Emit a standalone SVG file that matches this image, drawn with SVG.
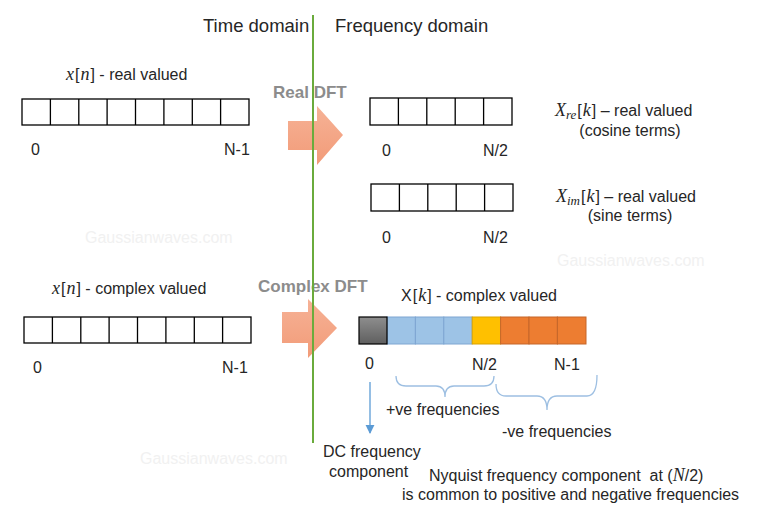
<svg xmlns="http://www.w3.org/2000/svg" width="765" height="512" viewBox="0 0 765 512">
<style>
text{font-family:"Liberation Sans",Arial,sans-serif;fill:#262626;font-size:16px}
.h{font-size:18.5px}
.m{font-family:"Liberation Serif","Times New Roman",serif;font-style:italic;font-size:18px}
.s{font-family:"Liberation Serif","Times New Roman",serif;font-style:italic;font-size:13px}
.dft{font-weight:bold;fill:#8c8c8c;font-size:17px}
.wm{fill:#f1f1f1;font-size:16px}
.cell{fill:#fff;stroke:#000;stroke-width:1.3}
.blue{fill:#9dc3e6;stroke:#7ea6d2;stroke-width:1}
.org{fill:#ed7d31;stroke:#c5672a;stroke-width:1}
.brace{fill:none;stroke:#9dbfe2;stroke-width:1.3}
</style>
<defs>
<linearGradient id="gg" x1="0" y1="0" x2="0" y2="1"><stop offset="0" stop-color="#8e8e8e"/><stop offset="1" stop-color="#5f5f5f"/></linearGradient>
<linearGradient id="ag" x1="0" y1="0" x2="0" y2="1"><stop offset="0" stop-color="#f6b296"/><stop offset="1" stop-color="#f29b78"/></linearGradient>
<marker id="ah" viewBox="0 0 10 10" refX="9" refY="5" markerWidth="7" markerHeight="7" orient="auto"><path d="M0,0 L10,5 L0,10 z" fill="#5b9bd5"/></marker>
</defs>

<g id="watermarks">
<text class="wm" x="85" y="243">Gaussianwaves.com</text>
<text class="wm" x="557" y="266">Gaussianwaves.com</text>
<text class="wm" x="140" y="464">Gaussianwaves.com</text>
</g>

<g id="headers">
<text class="h" x="203" y="32">Time domain</text>
<text class="h" x="335" y="32">Frequency domain</text>
</g>

<g id="xn-real">
<text x="66" y="80"><tspan class="m">x</tspan><tspan dx="1">[</tspan><tspan class="m" dx="1">n</tspan><tspan dx="1">]</tspan> - real valued</text>
<g transform="translate(22,99)">
<rect class="cell" x="0" y="0" width="227" height="26"/>
<path d="M28.4,0V26M56.8,0V26M85.1,0V26M113.5,0V26M141.9,0V26M170.3,0V26M198.6,0V26" stroke="#000" stroke-width="1.3"/>
</g>
<text x="31" y="155">0</text>
<text x="224" y="155">N-1</text>
</g>

<g id="real-dft">
<path fill="url(#ag)" d="M288,121H317V106L343,135L317,165V150H288Z"/>
<text class="dft" x="273" y="98">Real DFT</text>
</g>

<g id="xre">
<g transform="translate(370,98)">
<rect class="cell" x="0" y="0" width="142" height="27"/>
<path d="M28.4,0V27M56.8,0V27M85.2,0V27M113.6,0V27" stroke="#000" stroke-width="1.3"/>
</g>
<text x="382" y="156">0</text>
<text x="483" y="156">N/2</text>
<text x="555" y="116"><tspan class="m">X</tspan><tspan class="s" dy="3">re</tspan><tspan dy="-3" dx="1">[</tspan><tspan class="m" dx="1">k</tspan><tspan dx="1">]</tspan> – real valued</text>
<text x="630" y="136" text-anchor="middle">(cosine terms)</text>
</g>

<g id="xim">
<g transform="translate(371,184)">
<rect class="cell" x="0" y="0" width="142" height="27"/>
<path d="M28.4,0V27M56.8,0V27M85.2,0V27M113.6,0V27" stroke="#000" stroke-width="1.3"/>
</g>
<text x="382" y="243">0</text>
<text x="483" y="243">N/2</text>
<text x="556" y="202"><tspan class="m">X</tspan><tspan class="s" dy="3">im</tspan><tspan dy="-3" dx="1">[</tspan><tspan class="m" dx="1">k</tspan><tspan dx="1">]</tspan> – real valued</text>
<text x="630" y="221" text-anchor="middle">(sine terms)</text>
</g>

<g id="xn-complex">
<text x="52" y="294"><tspan class="m">x</tspan><tspan dx="1">[</tspan><tspan class="m" dx="1">n</tspan><tspan dx="1">]</tspan> - complex valued</text>
<g transform="translate(24,317)">
<rect class="cell" x="0" y="0" width="227" height="26"/>
<path d="M28.4,0V26M56.8,0V26M85.1,0V26M113.5,0V26M141.9,0V26M170.3,0V26M198.6,0V26" stroke="#000" stroke-width="1.3"/>
</g>
<text x="33" y="373">0</text>
<text x="222" y="373">N-1</text>
</g>

<g id="complex-dft">
<path fill="url(#ag)" d="M282,312H308V299L337,328L308,358V343H282Z"/>
<text class="dft" x="258" y="292">Complex DFT</text>
</g>

<g id="xk">
<text x="401" y="301">X<tspan dx="1">[</tspan><tspan class="m" dx="1">k</tspan><tspan dx="1">]</tspan> - complex valued</text>
<rect x="387" y="317" width="28.4" height="27" class="blue"/>
<rect x="415.4" y="317" width="28.4" height="27" class="blue"/>
<rect x="443.8" y="317" width="28.4" height="27" class="blue"/>
<rect x="472.2" y="317" width="28.4" height="27" fill="#ffc000" stroke="#d9a300" stroke-width="1"/>
<rect x="500.6" y="317" width="28.4" height="27" class="org"/>
<rect x="529" y="317" width="28.4" height="27" class="org"/>
<rect x="557.4" y="317" width="28.6" height="27" class="org"/>
<rect x="359" y="317" width="28" height="27" fill="url(#gg)" stroke="#000" stroke-width="1.2"/>
<text x="365" y="369">0</text>
<text x="472" y="370">N/2</text>
<text x="554" y="370">N-1</text>
</g>

<g id="connectors">
<path class="brace" d="M396,376Q396,386 406,386H436Q445,386 445,397Q445,386 454,386H484Q494,386 494,376"/>
<path class="brace" d="M496,384Q496,396 506,396H537Q547,396 547,410Q547,396 557,396H587Q597,396 597,375"/>
<line x1="370" y1="382" x2="370" y2="433" stroke="#5b9bd5" stroke-width="1.3" marker-end="url(#ah)"/>
</g>

<g id="annotations">
<text x="386" y="415">+ve frequencies</text>
<text x="502" y="437">-ve frequencies</text>
<text x="323" y="457">DC frequency</text>
<text x="329" y="477">component</text>
<text x="429" y="481" xml:space="preserve">Nyquist frequency component  at (<tspan class="m">N</tspan>/2)</text>
<text x="402" y="500">is common to positive and negative frequencies</text>
</g>

<g id="divider">
<line x1="313" y1="15" x2="313" y2="443" stroke="#6aab3c" stroke-width="2"/>
</g>
</svg>
